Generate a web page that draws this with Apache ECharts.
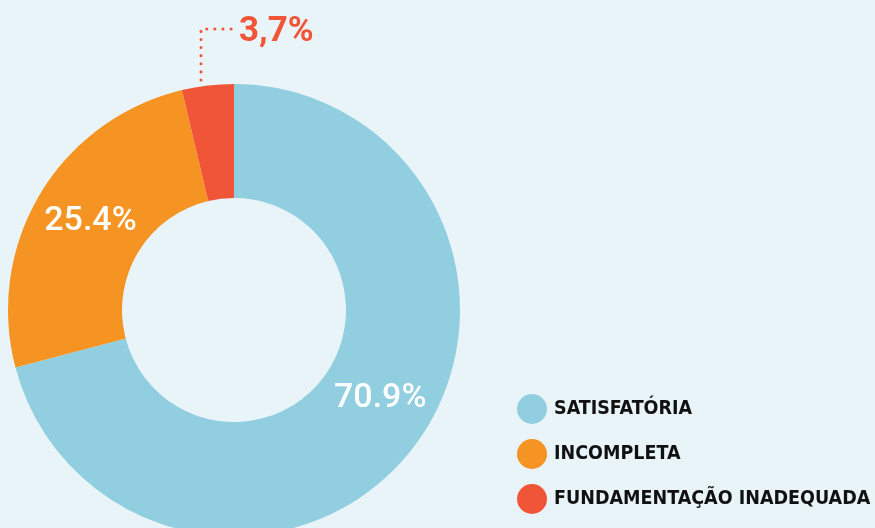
<!DOCTYPE html>
<html>
<head>
<meta charset="utf-8">
<script src="https://cdn.jsdelivr.net/npm/echarts@6/dist/echarts.min.js"></script>
<style>
  html, body { margin: 0; padding: 0; background: #E9F4F9; }
  #container { width: 875px; height: 528px; }
</style>
</head>
<body>
<div id="container"></div>
<script>
var categories = ["SATISFATÓRIA", "INCOMPLETA", "FUNDAMENTAÇÃO INADEQUADA"];
var values = [70.9, 25.4, 3.7];
var labelTexts = ["70.9%", "25.4%", "3,7%"];
var colors = ["#91CFE0", "#F59422", "#F15537"];

var dom = document.getElementById("container");
var myChart = echarts.init(dom, null, { renderer: "canvas" });

var cx = 234, cy = 310, rOuter = 226, rInner = 112;

var data = categories.map(function (name, i) {
  var item = {
    name: name,
    value: values[i],
    itemStyle: { color: colors[i] },
    label: { formatter: labelTexts[i] },
  };
  if (i === 0) {
    item.label.offset = [10, -16];
  }
  if (i === 1) {
    item.label.offset = [4, 0];
  }
  if (i === 2) {
    item.label.position = "outside";
    item.label.color = colors[2];
    item.label.fontSize = 35;
    item.label.fontWeight = "bold";
    item.labelLine = {
      show: true,
      lineStyle: { color: colors[2], width: 3, type: [0.1, 8], cap: "round" },
    };
  }
  return item;
});

var option = {
  backgroundColor: "#E9F4F9",
  legend: {
    orient: "vertical",
    left: 512,
    top: 389,
    itemWidth: 30,
    itemHeight: 30,
    itemGap: 15,
    icon: "circle",
    textStyle: {
      fontFamily: "DejaVu Sans Condensed",
      fontWeight: "bold",
      fontSize: 19.5,
      color: "#111",
      padding: [0, 0, 0, 2],
    },
    data: categories,
  },
  series: [
    {
      type: "pie",
      center: [cx, cy],
      radius: [rInner, rOuter],
      startAngle: 90,
      clockwise: true,
      avoidLabelOverlap: false,
      label: {
        show: true,
        position: "inside",
        color: "#fff",
        fontFamily: "Roboto",
        fontWeight: 500,
        fontSize: 34,
      },
      labelLine: { show: false },
      labelLayout: function (params) {
        if (params.dataIndex !== 2) return {};
        var sx = cx - 33;
        var sy = cy - rOuter - 4;
        var ty = 29;
        return {
          x: sx + 38,
          y: ty + 3,
          align: "left",
          verticalAlign: "middle",
          labelLinePoints: [
            [sx, sy],
            [sx, ty],
            [sx + 32, ty],
          ],
        };
      },
      emphasis: { disabled: true },
      data: data,
    },
  ],
};

myChart.setOption(option);
window.addEventListener("resize", myChart.resize);
</script>
</body>
</html>
